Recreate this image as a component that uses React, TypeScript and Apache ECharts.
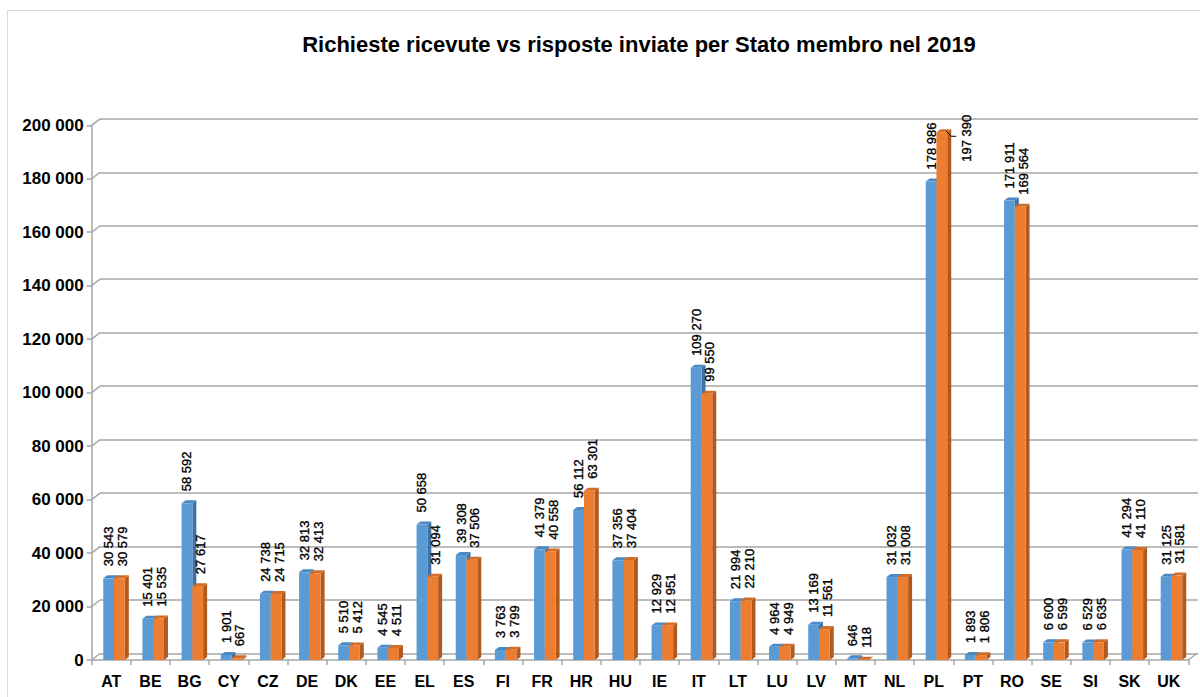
import React, { useEffect, useRef } from 'react';
import * as echarts from 'echarts';

const FONT = '"Liberation Sans", Arial, sans-serif';

const TITLE = 'Richieste ricevute vs risposte inviate per Stato membro nel 2019';

const categories = ['AT', 'BE', 'BG', 'CY', 'CZ', 'DE', 'DK', 'EE', 'EL', 'ES', 'FI', 'FR', 'HR', 'HU', 'IE', 'IT', 'LT', 'LU', 'LV', 'MT', 'NL', 'PL', 'PT', 'RO', 'SE', 'SI', 'SK', 'UK'];

const received = [30543, 15401, 58592, 1901, 24738, 32813, 5510, 4545, 50658, 39308, 3763, 41379, 56112, 37356, 12929, 109270, 21994, 4964, 13169, 646, 31032, 178986, 1893, 171911, 6600, 6529, 41294, 31125];

const sent = [30579, 15535, 27617, 667, 24715, 32413, 5412, 4511, 31094, 37506, 3799, 40558, 63301, 37404, 12951, 99550, 22210, 4949, 11561, 118, 31008, 197390, 1806, 169564, 6599, 6635, 41110, 31581];

const yTicks = [0, 20000, 40000, 60000, 80000, 100000, 120000, 140000, 160000, 180000, 200000];

const Y_MIN = 0;
const Y_MAX = 200000;
const Y_STEP = 20000;

const BLUE = { front: '#5B9BD5', side: '#3F72A6', top: '#4C88C2' };
const ORANGE = { front: '#ED7D31', side: '#B25A1E', top: '#D26C27' };

const DX = 4;
const DY = 3;
const WALL_DX = 8.3;
const WALL_DY = 6.5;
const GRID_COLOR = '#a6a6a6';

function fmt(v: number): string {
  return String(v).replace(/\B(?=(\d{3})+(?!\d))/g, ' ');
}

function makeBarSeries(name: string, values: number[], which: number, colors: any) {
  return {
    type: 'custom',
    name,
    xAxisIndex: 0,
    yAxisIndex: 0,
    silent: true,
    clip: false,
    data: values.map((v, i) => [i, v]),
    encode: { x: 0, y: 1 },
    renderItem: (params: any, api: any) => {
      const idx = api.value(0);
      const v = api.value(1);
      const top = api.coord([idx, v]);
      const base = api.coord([idx, 0]);
      const band = api.size([1, 0])[0];
      const w = band * 0.275;
      const x = top[0] - band * 0.205 + which * w;
      const yT = top[1];
      const y0 = base[1];
      const children: any[] = [
        {
          type: 'polygon',
          shape: { points: [[x + w, yT], [x + w + DX, yT - DY], [x + w + DX, y0 - DY], [x + w, y0]] },
          style: { fill: colors.side },
        },
        {
          type: 'polygon',
          shape: { points: [[x, yT], [x + DX, yT - DY], [x + w + DX, yT - DY], [x + w, yT]] },
          style: { fill: colors.top },
        },
        {
          type: 'rect',
          shape: { x, y: yT, width: w, height: Math.max(0, y0 - yT) },
          style: { fill: colors.front },
        },
      ];
      const text = fmt(v);
      const estLen = text.length * 6.6;
      let lx = x + w / 2 + which * 3;
      let ly = yT - 12;
      if (ly - estLen < 100) {
        // label does not fit above the bar: place it beside, with a leader line
        lx = top[0] + band * 0.84;
        ly = yT + 29.5;
        children.push({
          type: 'polyline',
          shape: { points: [[x + w - 1, yT - 1], [x + w + 4, yT + 4], [x + w + 9, yT + 4]] },
          style: { stroke: '#000', lineWidth: 1, fill: 'none' },
        });
      }
      children.push({
        type: 'text',
        x: lx,
        y: ly,
        rotation: Math.PI / 2,
        style: {
          text,
          fill: '#000',
          font: `13px ${FONT}`,
          align: 'left',
          verticalAlign: 'middle',
          stroke: '#000',
          lineWidth: 0.35,
        },
      });
      return { type: 'group', children };
    },
  };
}

export default function App() {
  const ref = useRef<HTMLDivElement>(null);

  useEffect(() => {
    if (!ref.current) return;
    const chart = echarts.init(ref.current, null, { renderer: 'svg' });

    const option: any = {
      animation: false,
      backgroundColor: '#ffffff',
      graphic: [
        {
          type: 'rect',
          shape: { x: 7.5, y: 10.5, width: 1200, height: 700 },
          style: { fill: 'none', stroke: '#d9d9d9', lineWidth: 1 },
          silent: true,
          z: -10,
        },
        {
          type: 'text',
          x: 639,
          y: 44,
          style: {
            text: TITLE,
            fill: '#000',
            font: `bold 22px ${FONT}`,
            align: 'center',
            verticalAlign: 'middle',
          },
        },
      ],
      grid: [
        { left: 91.7, right: 11.7, top: 125.3, bottom: 37, containLabel: false },
        { left: 100, right: 2, top: 118.8, bottom: 43.5, containLabel: false },
      ],
      xAxis: [
        {
          type: 'category',
          gridIndex: 0,
          data: categories,
          axisLine: { show: true, lineStyle: { color: GRID_COLOR, width: 1.5 } },
          axisTick: { show: true, length: 5, lineStyle: { color: GRID_COLOR, width: 1.5 } },
          axisLabel: {
            margin: 13,
            color: '#000',
            fontFamily: FONT,
            fontWeight: 'bold',
            fontSize: 16,
            interval: 0,
          },
          splitLine: { show: false },
        },
        {
          type: 'category',
          gridIndex: 1,
          data: categories,
          show: false,
        },
      ],
      yAxis: [
        {
          type: 'value',
          gridIndex: 0,
          min: Y_MIN,
          max: Y_MAX,
          interval: Y_STEP,
          axisLine: { show: true, lineStyle: { color: GRID_COLOR, width: 1.5 } },
          axisTick: { show: true, length: 5, lineStyle: { color: GRID_COLOR, width: 1.5 } },
          axisLabel: {
            margin: 8,
            color: '#000',
            fontFamily: FONT,
            fontWeight: 'bold',
            fontSize: 17,
            formatter: (v: number) => fmt(v),
          },
          splitLine: { show: false },
        },
        {
          type: 'value',
          gridIndex: 1,
          min: Y_MIN,
          max: Y_MAX,
          interval: Y_STEP,
          axisLine: { show: false },
          axisTick: { show: false },
          axisLabel: { show: false },
          splitLine: { show: true, lineStyle: { color: GRID_COLOR, width: 1.5 } },
        },
      ],
      series: [
        {
          type: 'custom',
          name: 'wall',
          xAxisIndex: 0,
          yAxisIndex: 0,
          silent: true,
          clip: false,
          data: yTicks.map((v) => [0, v]),
          encode: { x: 0, y: 1 },
          renderItem: (params: any, api: any) => {
            const cs = params.coordSys;
            const v = api.value(1);
            const y = api.coord([0, v])[1];
            const children: any[] = [
              {
                type: 'line',
                shape: { x1: cs.x, y1: y, x2: cs.x + WALL_DX, y2: y - WALL_DY },
                style: { stroke: GRID_COLOR, lineWidth: 1.5 },
              },
            ];
            if (v === 0) {
              children.push({
                type: 'line',
                shape: { x1: cs.x + cs.width, y1: y, x2: cs.x + cs.width + WALL_DX, y2: y - WALL_DY },
                style: { stroke: GRID_COLOR, lineWidth: 1.5 },
              });
            }
            return { type: 'group', children };
          },
        },
        makeBarSeries('Richieste ricevute', received, 0, BLUE),
        makeBarSeries('Risposte inviate', sent, 1, ORANGE),
      ],
    };

    chart.setOption(option);
    return () => chart.dispose();
  }, []);

  return (
    <div
      ref={ref}
      style={{ position: 'absolute', left: 0, top: 0, width: 1200, height: 697 }}
    />
  );
}
